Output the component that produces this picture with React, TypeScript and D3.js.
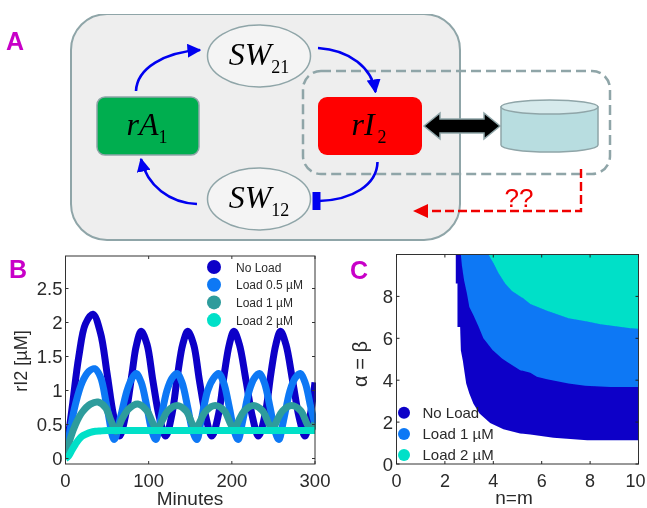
import React from 'react';
import * as d3 from 'd3';

// Panel B, rI2 time courses
const noLoadT = [0, 8, 16, 24, 33, 42, 50, 58, 65, 72, 80, 85, 91, 98, 105, 113, 120.5, 128, 135, 141, 147, 154, 161, 169, 176, 184, 191, 197, 202.5, 209, 217, 225, 232, 240, 247, 253, 258.5, 265, 273, 281, 288, 294, 300];
const noLoadV = [0, 0.75, 1.5, 1.98, 2.12, 1.85, 1.25, 0.62, 0.33, 0.62, 1.25, 1.65, 1.87, 1.68, 1.15, 0.6, 0.33, 0.65, 1.25, 1.68, 1.87, 1.68, 1.15, 0.6, 0.33, 0.65, 1.25, 1.68, 1.87, 1.68, 1.15, 0.6, 0.33, 0.65, 1.25, 1.68, 1.87, 1.68, 1.15, 0.6, 0.33, 0.62, 1.12];
const load05T = [0, 6, 12, 20, 28, 35, 42, 50, 58.5, 66, 74, 80, 85, 91, 98, 104, 108.5, 114, 122, 128, 134, 140, 147, 153, 158, 163, 171, 178, 184, 190, 197, 203, 207.5, 213, 221, 227, 233, 239, 246, 252, 256.5, 262, 270, 276, 282, 288, 295, 300];
const load05V = [0, 0.45, 0.8, 1.12, 1.28, 1.32, 1.2, 0.75, 0.28, 0.6, 1.0, 1.18, 1.25, 1.12, 0.75, 0.4, 0.28, 0.55, 1.0, 1.18, 1.25, 1.12, 0.75, 0.4, 0.28, 0.55, 1.0, 1.18, 1.25, 1.12, 0.75, 0.4, 0.28, 0.55, 1.0, 1.18, 1.25, 1.12, 0.75, 0.4, 0.28, 0.55, 1.0, 1.18, 1.25, 1.12, 0.75, 0.5];
const load1T = [0, 6, 12, 20, 30, 39, 48, 55, 61, 68, 76, 87, 98, 105, 110, 116, 123, 134, 145, 152, 157, 162, 169, 180, 191, 198, 203, 208, 215, 226, 237, 244, 249, 254, 261, 272, 283, 290, 295, 300];
const load1V = [0, 0.3, 0.5, 0.68, 0.8, 0.83, 0.75, 0.55, 0.4, 0.58, 0.73, 0.8, 0.7, 0.52, 0.42, 0.55, 0.7, 0.78, 0.7, 0.52, 0.42, 0.55, 0.7, 0.78, 0.7, 0.52, 0.42, 0.55, 0.7, 0.78, 0.7, 0.52, 0.42, 0.55, 0.7, 0.78, 0.7, 0.52, 0.42, 0.52];
const load2T = [0, 4, 8, 12, 16, 20, 25, 30, 36, 42, 50, 70, 300];
const load2V = [0, 0.04, 0.13, 0.21, 0.28, 0.33, 0.36, 0.385, 0.4, 0.405, 0.41, 0.41, 0.41];

const seriesLabels = ['No Load', 'Load 0.5 µM', 'Load 1 µM', 'Load 2 µM'];
const seriesColors = ['#0a00c8', '#0a78f5', '#2f9c9c', '#00e0c8'];
const bYTicks = [0, 0.5, 1, 1.5, 2, 2.5];
const bXTicks = [0, 100, 200, 300];

// Panel C, left/lower edge of each region, top of the plot downwards
const noLoadEdgeY = [10, 8.62, 8.62, 6.54, 6.54, 5.42, 4.94, 4.46, 3.84, 3.36, 2.88, 2.41, 1.96, 1.66, 1.46, 1.41, 1.41, 1.25, 1.25, 1.13, 1.13];
const noLoadEdgeX = [2.45, 2.45, 2.52, 2.52, 2.63, 2.66, 2.74, 2.8, 2.88, 3.01, 3.18, 3.43, 3.87, 4.42, 5.11, 5.53, 5.53, 6.49, 6.49, 7.88, 10];
const load1EdgeY = [10, 9.5, 8.78, 8.14, 7.5, 7.1, 6.56, 6, 5.44, 5.04, 4.88, 4.48, 4.35, 4.16, 4.05, 3.84, 3.73, 3.68, 3.68];
const load1EdgeX = [2.66, 2.7, 2.79, 2.91, 3.01, 3.18, 3.39, 3.59, 3.97, 4.36, 4.56, 5.11, 5.53, 5.8, 6.22, 7.11, 7.8, 8.84, 10];
const load2EdgeY = [10, 9.58, 9.1, 8.62, 8.26, 7.9, 7.64, 7.32, 6.96, 6.8, 6.67, 6.59, 6.48, 6.46];
const load2EdgeX = [3.8, 4.01, 4.22, 4.49, 4.77, 5.25, 5.53, 6.22, 7.11, 7.88, 8.43, 8.98, 9.67, 10];

const regionLabels = ['No Load', 'Load 1 µM', 'Load 2 µM'];
const regionColors = ['#0a00c8', '#0a78f5', '#00e0c8'];
const cTicks = [0, 2, 4, 6, 8, 10];
const cYTicks = [0, 2, 4, 6, 8];

const sans = '"Liberation Sans", Arial, sans-serif';
const serif = '"Liberation Serif", serif';
const inkColor = '#2a2a2a';
const magenta = '#c800c8';

function Node({ x, y, name, sub, subDx }: { x: number; y: number; name: string; sub: string; subDx?: number }) {
  return (
    <text x={x} y={y} textAnchor="middle" fontFamily={serif} fontStyle="italic" fontSize={32} fill="#000">
      {name}
      <tspan fontStyle="normal" fontSize={18} dy={8} dx={subDx || 0}>{sub}</tspan>
    </text>
  );
}

function DiagramA() {
  const blue = '#0000f0';
  const edge = '#8fa5a8';
  return (
    <g>
      <defs>
        <marker id="blueHead" viewBox="0 0 10 10" refX="9" refY="5" markerWidth="14" markerHeight="14" markerUnits="userSpaceOnUse" orient="auto">
          <path d="M0,0 L10,5 L0,10 Z" fill={blue} />
        </marker>
      </defs>
      <text x={6} y={50} fontFamily={sans} fontWeight="bold" fontSize={25} fill={magenta}>A</text>
      <rect x={71} y={14} width={389} height={226} rx={36} fill="#eeeeee" stroke={edge} strokeWidth={2} />

      <ellipse cx={259} cy={56} rx={51.5} ry={31} fill="#f4f4f4" stroke={edge} strokeWidth={1.5} />
      <ellipse cx={259} cy={199} rx={51.5} ry={31} fill="#f4f4f4" stroke={edge} strokeWidth={1.5} />
      <rect x={97} y={97} width={102} height={58} rx={8} fill="#00ae50" stroke={edge} strokeWidth={1.5} />
      <rect x={318} y={97} width={104} height={58} rx={9} fill="#ff0000" />

      <rect x={303} y={71} width={307} height={103} rx={18} fill="none" stroke={edge} strokeWidth={2.5} strokeDasharray="10 5" />

      <path d="M136,91 C137,68 165,52 200,50" fill="none" stroke={blue} strokeWidth={2.6} markerEnd="url(#blueHead)" />
      <path d="M318,48 C350,50 372,68 375.5,92" fill="none" stroke={blue} strokeWidth={2.6} markerEnd="url(#blueHead)" />
      <path d="M197,204 C170,203 147,186 141,159" fill="none" stroke={blue} strokeWidth={2.6} markerEnd="url(#blueHead)" />
      <path d="M377.5,162 C377,185 352,200 319,201" fill="none" stroke={blue} strokeWidth={2.6} />
      <rect x={312.5} y={192} width={8} height={18} fill={blue} />

      <path d="M424,126 L440,113 L440,119 L484,119 L484,113 L500,126 L484,139 L484,133 L440,133 L440,139 Z" fill="#000" stroke={edge} strokeWidth={1.5} />

      <path d="M501,107 L501,145 A48.5,7 0 0 0 598,145 L598,107 Z" fill="#b8dde0" stroke={edge} strokeWidth={1.5} />
      <ellipse cx={549.5} cy={107} rx={48.5} ry={7} fill="#d6eaec" stroke={edge} strokeWidth={1.5} />

      <path d="M581,169 L581,211 L420,211" fill="none" stroke="#f00000" strokeWidth={2.4} strokeDasharray="9 4" />
      <path d="M413,211 L428,204 L428,218 Z" fill="#f00000" />
      <text x={519} y={207} textAnchor="middle" fontFamily={sans} fontSize={26} fill="#f00000">??</text>

      <Node x={259} y={65} name="SW" sub="21" />
      <Node x={259} y={208} name="SW" sub="12" />
      <Node x={147} y={135} name="rA" sub="1" />
      <Node x={369} y={135} name="rI" sub="2" subDx={3} />
    </g>
  );
}

function ChartB() {
  const left = 65.5, right = 315, top = 256, bottom = 464;
  const x = d3.scaleLinear().domain([0, 300]).range([left, right]);
  const y = d3.scaleLinear().domain([0, 2.5]).range([458.5, 288.5]);
  const line = d3.line<[number, number]>().x(d => x(d[0])).y(d => y(d[1])).curve(d3.curveCatmullRom.alpha(0.5));
  const series: [number[], number[]][] = [
    [noLoadT, noLoadV],
    [load05T, load05V],
    [load1T, load1V],
    [load2T, load2V],
  ];
  return (
    <g>
      <defs>
        <clipPath id="clipB"><rect x={left} y={top} width={right - left + 1} height={bottom - top} /></clipPath>
      </defs>
      <text x={9} y={278} fontFamily={sans} fontWeight="bold" fontSize={25} fill={magenta}>B</text>
      <g clipPath="url(#clipB)">
        {series.map(([ts, vs], i) => (
          <path
            key={seriesLabels[i]}
            d={line(ts.map((t, k) => [t, vs[k]] as [number, number])) || ''}
            fill="none"
            stroke={seriesColors[i]}
            strokeWidth={7}
          />
        ))}
      </g>
      <rect x={left} y={top} width={right - left} height={bottom - top} fill="none" stroke="#333" />
      {bYTicks.map(t => (
        <g key={t}>
          <line x1={left} x2={left + 3} y1={y(t)} y2={y(t)} stroke="#333" />
          <line x1={right - 3} x2={right} y1={y(t)} y2={y(t)} stroke="#333" />
          <text x={left - 3} y={y(t) + 6.5} textAnchor="end" fontFamily={sans} fontSize={18.5} fill={inkColor}>{t}</text>
        </g>
      ))}
      {bXTicks.map(t => (
        <g key={t}>
          <line x1={x(t)} x2={x(t)} y1={bottom} y2={bottom - 3} stroke="#333" />
          <line x1={x(t)} x2={x(t)} y1={top} y2={top + 3} stroke="#333" />
          <text x={x(t)} y={487} textAnchor="middle" fontFamily={sans} fontSize={18.5} fill={inkColor}>{t}</text>
        </g>
      ))}
      <text x={190} y={505} textAnchor="middle" fontFamily={sans} fontSize={19} fill={inkColor}>Minutes</text>
      <text transform="translate(27,361) rotate(-90)" textAnchor="middle" fontFamily={sans} fontSize={18} fill={inkColor}>rI2 [µM]</text>
      {seriesLabels.map((label, i) => (
        <g key={label}>
          <circle cx={214} cy={267 + i * 17.7} r={7} fill={seriesColors[i]} />
          <text x={236} y={271.5 + i * 17.7} fontFamily={sans} fontSize={12} fill={inkColor}>{label}</text>
        </g>
      ))}
    </g>
  );
}

function ChartC() {
  const left = 396.5, right = 638.5, top = 254.5, bottom = 464;
  const x = d3.scaleLinear().domain([0, 10]).range([left, right]);
  const y = d3.scaleLinear().domain([0, 10]).range([bottom, top]);
  const area = d3.area<[number, number]>()
    .y(d => y(d[0]))
    .x0(d => x(d[1]))
    .x1(() => x(10));
  const regions: [number[], number[]][] = [
    [noLoadEdgeY, noLoadEdgeX],
    [load1EdgeY, load1EdgeX],
    [load2EdgeY, load2EdgeX],
  ];
  return (
    <g>
      <text x={350} y={279} fontFamily={sans} fontWeight="bold" fontSize={25} fill={magenta}>C</text>
      {regions.map(([ys, xs], i) => (
        <path
          key={regionLabels[i]}
          d={area(ys.map((v, k) => [v, xs[k]] as [number, number])) || ''}
          fill={regionColors[i]}
        />
      ))}
      <rect x={left} y={top} width={right - left} height={bottom - top} fill="none" stroke="#333" />
      {cYTicks.map(t => (
        <g key={t}>
          <line x1={left} x2={left + 3} y1={y(t)} y2={y(t)} stroke="#222" />
          <line x1={right - 3} x2={right} y1={y(t)} y2={y(t)} stroke="#222" />
          <text x={left - 3.5} y={y(t) + 6.5} textAnchor="end" fontFamily={sans} fontSize={18.5} fill={inkColor}>{t}</text>
        </g>
      ))}
      {cTicks.map(t => (
        <g key={t}>
          <line x1={x(t)} x2={x(t)} y1={bottom} y2={bottom - 3} stroke="#222" />
          <line x1={x(t)} x2={x(t)} y1={top} y2={top + 3} stroke="#222" />
          {/* the last label is pulled in so it stays inside the page */}
          <text x={Math.min(x(t), 635.5)} y={487} textAnchor="middle" fontFamily={sans} fontSize={18} fill={inkColor}>{t}</text>
        </g>
      ))}
      <text x={514} y={504} textAnchor="middle" fontFamily={sans} fontSize={19} fill={inkColor}>n=m</text>
      <text transform="translate(367,364) rotate(-90)" textAnchor="middle" fontFamily={sans} fontSize={20} fill={inkColor}>α = β</text>
      {regionLabels.map((label, i) => (
        <g key={label}>
          <circle cx={404} cy={412.7 + i * 21.2} r={6} fill={regionColors[i]} />
          <text x={422.5} y={418 + i * 21.2} fontFamily={sans} fontSize={15} fill={inkColor}>{label}</text>
        </g>
      ))}
    </g>
  );
}

export default function App() {
  return (
    <svg
      width={647}
      height={508}
      style={{ position: 'absolute', left: 0, top: 0, background: '#fff' }}
    >
      <defs>
        <filter id="soft" x="0" y="0" width="100%" height="100%">
          <feGaussianBlur stdDeviation="0.4" />
        </filter>
      </defs>
      <g filter="url(#soft)">
        <DiagramA />
        <ChartB />
        <ChartC />
      </g>
    </svg>
  );
}
